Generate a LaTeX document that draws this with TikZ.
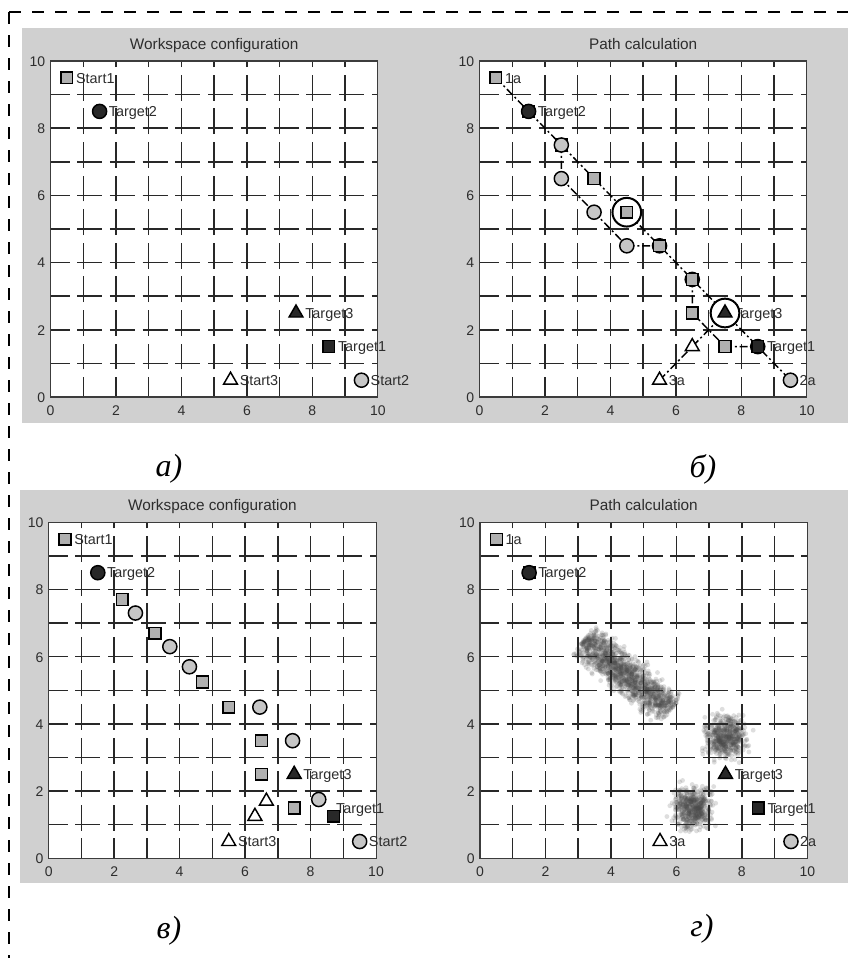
\documentclass[tikz,border=0pt]{standalone}
\usepackage{fontspec}
\setsansfont{Liberation Sans}
\newfontfamily\capfont{Liberation Serif}
\usetikzlibrary{shapes.geometric}
\definecolor{bgc}{RGB}{208,208,208}
\definecolor{sqfill}{RGB}{176,176,176}
\definecolor{cifill}{RGB}{198,198,198}
\definecolor{darkfill}{RGB}{40,40,40}
\definecolor{gridc}{RGB}{40,40,40}
\definecolor{axc}{RGB}{60,60,60}
\definecolor{txtc}{RGB}{45,45,45}
\definecolor{cloudc}{RGB}{75,75,75}
\tikzset{
  borderl/.style={line width=1.5pt, black, dash pattern=on 9pt off 8.25pt},
  gridh/.style={line width=1.1pt, gridc, dash pattern=on 18.75pt off 5.8pt, dash phase=4.5pt},
  gridv/.style={line width=1.1pt, gridc, dash pattern=on 19.4pt off 5.8pt, dash phase=4.5pt},
  axisl/.style={line width=0.8pt, axc},
  tickl/.style={font=\sffamily\fontsize{10.5}{12}\selectfont, text=txtc, inner sep=0pt},
  titl/.style={font=\sffamily\fontsize{11.5}{13}\selectfont, text=txtc, inner sep=0pt, anchor=base},
  lbl/.style={font=\sffamily\fontsize{10.8}{12}\selectfont, text=txtc, inner sep=0pt, anchor=base west, xshift=6.75pt, yshift=-3.9pt},
  sqm/.style={rectangle, draw=black, line width=1.1pt, fill=sqfill, minimum size=8.8pt, inner sep=0pt},
  sqd/.style={sqm, fill=darkfill},
  cim/.style={circle, draw=black, line width=1.1pt, fill=cifill, minimum size=10.6pt, inner sep=0pt},
  cid/.style={cim, fill=darkfill},
  trm/.style={regular polygon, regular polygon sides=3, draw=black, line width=1.1pt, fill=white, minimum size=12pt, inner sep=0pt},
  trd/.style={trm, fill=darkfill},
  ring/.style={circle, draw=black, line width=1.5pt, fill=white, minimum size=21.5pt, inner sep=0pt},
  pathl/.style={line width=1.1pt, black, dash pattern=on 6pt off 2.2pt on 1.5pt off 2.2pt},
  capl/.style={font=\capfont\itshape\fontsize{24}{28}\selectfont, inner sep=0pt},
  dotc/.style={cloudc, opacity=0.18}
}
\newcommand\plotbg{\fill[white] (0,0) rectangle (10,10);}
\newcommand\plotgrid[2]{%
  \foreach \i in {1,...,9}{%
    \draw[gridh] (0,\i) -- (10,\i);
    \draw[gridv] (\i,0) -- (\i,10);
  }
  \draw[axisl] (0,0) rectangle (10,10);
  \foreach \v in {0,2,...,10}{%
    \node[tickl, anchor=base] (#2x\v) at ([yshift=-13.9pt]\v,0) {\v};
    \node[tickl, anchor=base east] (#2y\v) at ([xshift=-3.75pt,yshift=-4pt]0,\v) {\v};
  }
  \node[titl] (#2title) at ([yshift=9pt]5,10) {#1};
}
\begin{document}
\begin{tikzpicture}[x=0.75pt, y=-0.75pt]
\useasboundingbox (0,0) rectangle (848,958);
\fill[white] (0,0) rectangle (848,958);
\fill[bgc] (22,28) rectangle (848,422.5);
\fill[bgc] (20,489.5) rectangle (848,883);
\coordinate (corner) at (9,12);
\coordinate (topend) at (848,12);
\coordinate (leftend) at (9,958);
\draw[borderl] (corner) -- (topend);
\draw[borderl] (corner) -- (leftend);

% ---------- panel a ----------
\begin{scope}[shift={(50.5,397)}, x=24.55pt, y=25.2pt]
  \plotbg
  \plotgrid{Workspace configuration}{a}
  \coordinate (aS1) at (0.5,9.5);
  \coordinate (aT2) at (1.5,8.5);
  \coordinate (aT3) at (7.5,2.5);
  \coordinate (aT1) at (8.5,1.5);
  \coordinate (aS3) at (5.5,0.5);
  \coordinate (aS2) at (9.5,0.5);
  \node[lbl] (aS1l) at (aS1) {Start1};
  \node[lbl] (aT2l) at (aT2) {Target2};
  \node[lbl] (aT3l) at (aT3) {Target3};
  \node[lbl] (aT1l) at (aT1) {Target1};
  \node[lbl] (aS3l) at (aS3) {Start3};
  \node[lbl] (aS2l) at (aS2) {Start2};
  \node[sqm] (aS1m) at (aS1) {};
  \node[cid] (aT2m) at (aT2) {};
  \node[trd] (aT3m) at (aT3) {};
  \node[sqd] (aT1m) at (aT1) {};
  \node[trm] (aS3m) at (aS3) {};
  \node[cim] (aS2m) at (aS2) {};
\end{scope}

% ---------- panel b ----------
\begin{scope}[shift={(479.5,397)}, x=24.55pt, y=25.2pt]
  \plotbg
  \plotgrid{Path calculation}{b}
  \coordinate (b1) at (0.5,9.5);
  \coordinate (bT2) at (1.5,8.5);
  \coordinate (bc1) at (2.5,7.5);
  \coordinate (bc2) at (2.5,6.5);
  \coordinate (bs1) at (3.5,6.5);
  \coordinate (bc3) at (3.5,5.5);
  \coordinate (bs2) at (4.5,5.5);
  \coordinate (bc4) at (4.5,4.5);
  \coordinate (bs3) at (5.5,4.5);
  \coordinate (bs4) at (6.5,3.5);
  \coordinate (bs5) at (6.5,2.5);
  \coordinate (bT3) at (7.5,2.5);
  \coordinate (bs6) at (7.5,1.5);
  \coordinate (bT1) at (8.5,1.5);
  \coordinate (b2a) at (9.5,0.5);
  \coordinate (bt1) at (6.5,1.5);
  \coordinate (b3a) at (5.5,0.5);
  \draw[pathl] (b1) -- (bT2) -- (bc1) -- (bs1) -- (bs2) -- (bs3) -- (bs4) -- (bT3) -- (bT1) -- (b2a);
  \draw[pathl] (bc1) -- (bc2) -- (bc3) -- (bc4) -- (bs3);
  \draw[pathl] (bs4) -- (bs5) -- (bs6) -- (bT1);
  \draw[pathl] (b3a) -- (bt1) -- (bT3);
  \node[lbl] (b1l) at (b1) {1a};
  \node[lbl] (bT2l) at (bT2) {Target2};
  \node[lbl] (bT3l) at (bT3) {Target3};
  \node[lbl] (bT1l) at (bT1) {Target1};
  \node[lbl] (b2al) at (b2a) {2a};
  \node[lbl] (b3al) at (b3a) {3a};
  \node[ring] (bring1) at (bs2) {};
  \node[ring] (bring2) at (bT3) {};
  \node[sqm] (b1m) at (b1) {};
  \node[sqd] (bT2sq) at (bT2) {};
  \node[cid] (bT2m) at (bT2) {};
  \node[sqm] (bc1sq) at (bc1) {};
  \node[cim] (bc1m) at (bc1) {};
  \node[cim] (bc2m) at (bc2) {};
  \node[sqm] (bs1m) at (bs1) {};
  \node[cim] (bc3m) at (bc3) {};
  \node[sqm] (bs2m) at (bs2) {};
  \node[cim] (bc4m) at (bc4) {};
  \node[cim] (bs3c) at (bs3) {};
  \node[sqm] (bs3m) at (bs3) {};
  \node[cim] (bs4c) at (bs4) {};
  \node[sqm] (bs4m) at (bs4) {};
  \node[sqm] (bs5m) at (bs5) {};
  \node[trd] (bT3m) at (bT3) {};
  \node[sqm] (bs6m) at (bs6) {};
  \node[cid] (bT1c) at (bT1) {};
  \node[sqd] (bT1m) at (bT1) {};
  \node[cim] (b2am) at (b2a) {};
  \node[trm] (bt1m) at (bt1) {};
  \node[trm] (b3am) at (b3a) {};
\end{scope}

% ---------- panel c ----------
\begin{scope}[shift={(48.7,858.3)}, x=24.55pt, y=25.2pt]
  \plotbg
  \plotgrid{Workspace configuration}{c}
  \coordinate (cS1) at (0.5,9.5);
  \coordinate (cT2) at (1.5,8.5);
  \coordinate (cT3) at (7.5,2.5);
  \coordinate (cT1) at (8.5,1.5);
  \coordinate (cS3) at (5.5,0.5);
  \coordinate (cS2) at (9.5,0.5);
  \node[lbl] (cS1l) at (cS1) {Start1};
  \node[lbl] (cT2l) at (cT2) {Target2};
  \node[lbl] (cT3l) at (cT3) {Target3};
  \node[lbl] (cT1l) at (cT1) {Target1};
  \node[lbl] (cS3l) at (cS3) {Start3};
  \node[lbl] (cS2l) at (cS2) {Start2};
  \node[sqm] (cS1m) at (cS1) {};
  \node[cid] (cT2m) at (cT2) {};
  \node[sqm] (cq1) at (2.25,7.7) {};
  \node[cim] (cr1) at (2.65,7.3) {};
  \node[sqm] (cq2) at (3.25,6.7) {};
  \node[cim] (cr2) at (3.7,6.3) {};
  \node[cim] (cr3) at (4.3,5.7) {};
  \node[sqm] (cq3) at (4.7,5.25) {};
  \node[sqm] (cq4) at (5.5,4.5) {};
  \node[cim] (cr4) at (6.45,4.5) {};
  \node[sqm] (cq5) at (6.5,3.5) {};
  \node[cim] (cr5) at (7.45,3.5) {};
  \node[sqm] (cq6) at (6.5,2.5) {};
  \node[trd] (cT3m) at (cT3) {};
  \node[trm] (ct1) at (6.65,1.7) {};
  \node[trm] (ct2) at (6.3,1.25) {};
  \node[sqm] (cq7) at (7.5,1.5) {};
  \node[cim] (cr6) at (8.25,1.75) {};
  \node[sqd] (cT1m) at (8.7,1.25) {};
  \node[trm] (cS3m) at (cS3) {};
  \node[cim] (cS2m) at (cS2) {};
\end{scope}

% ---------- panel d ----------
\begin{scope}[shift={(480,858.3)}, x=24.55pt, y=25.2pt]
  \plotbg
  \pgfmathsetseed{7}
  \foreach \k in {1,...,1300}{%
    \pgfmathsetmacro\cpt{1.16*rnd-0.08}
    \pgfmathsetmacro\cpu{(rnd+rnd+rnd-1.5)*0.5}
    \fill[dotc] ({3.35+2.3*\cpt+0.616*\cpu},{6.35-1.8*\cpt+0.788*\cpu}) circle (1.8pt);
  }
  \foreach \k in {1,...,520}{%
    \pgfmathsetmacro\cpx{(rnd+rnd+rnd-1.5)*0.6}
    \pgfmathsetmacro\cpy{(rnd+rnd+rnd-1.5)*0.6}
    \fill[dotc] ({7.5+\cpx},{3.6+\cpy}) circle (1.8pt);
  }
  \foreach \k in {1,...,520}{%
    \pgfmathsetmacro\cpx{(rnd+rnd+rnd-1.5)*0.58}
    \pgfmathsetmacro\cpy{(rnd+rnd+rnd-1.5)*0.6}
    \fill[dotc] ({6.5+\cpx},{1.5+\cpy}) circle (1.8pt);
  }
  \plotgrid{Path calculation}{d}
  \coordinate (d1) at (0.5,9.5);
  \coordinate (dT2) at (1.5,8.5);
  \coordinate (dT3) at (7.5,2.5);
  \coordinate (dT1) at (8.5,1.5);
  \coordinate (d3a) at (5.5,0.5);
  \coordinate (d2a) at (9.5,0.5);
  \node[lbl] (d1l) at (d1) {1a};
  \node[lbl] (dT2l) at (dT2) {Target2};
  \node[lbl] (dT3l) at (dT3) {Target3};
  \node[lbl] (dT1l) at (dT1) {Target1};
  \node[lbl] (d3al) at (d3a) {3a};
  \node[lbl] (d2al) at (d2a) {2a};
  \node[sqm] (d1m) at (d1) {};
  \node[sqd] (dT2sq) at (dT2) {};
  \node[cid] (dT2m) at (dT2) {};
  \node[trd] (dT3m) at (dT3) {};
  \node[sqd] (dT1m) at (dT1) {};
  \node[trm] (d3am) at (d3a) {};
  \node[cim] (d2am) at (d2a) {};
\end{scope}

% ---------- captions ----------
\node[capl] (capa) at (169,469) {а)};
\node[capl] (capb) at (703,469) {б)};
\node[capl] (capc) at (169,931) {в)};
\node[capl] (capd) at (702,929) {г)};
\end{tikzpicture}
\end{document}
